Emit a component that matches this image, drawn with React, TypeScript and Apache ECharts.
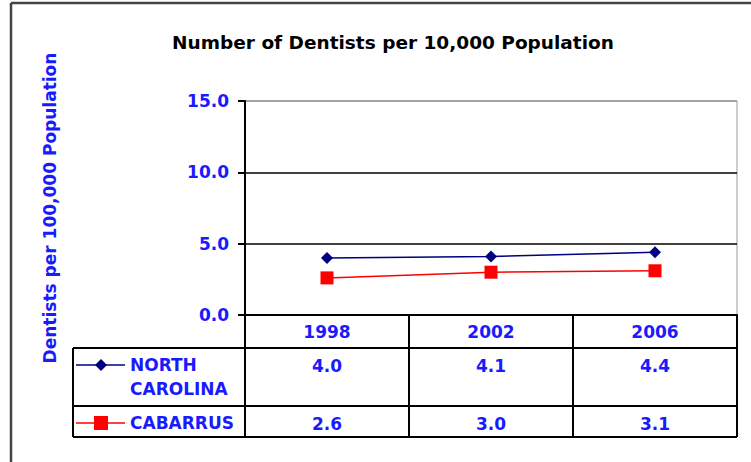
import React, { useEffect, useRef } from "react";
import * as echarts from "echarts";

const years = ["1998", "2002", "2006"];
const ncValues = [4.0, 4.1, 4.4];
const cabarrusValues = [2.6, 3.0, 3.1];
const seriesNames = ["NORTH CAROLINA", "CABARRUS"];
const yTicks = [0, 5, 10, 15];
const chartTitle = "Number of Dentists per 10,000 Population";
const yTitle = "Dentists per 100,000 Population";

const BLUE = "#1a1aff";
const NAVY = "#000080";
const RED = "#ff0000";
const FONT = "'DejaVu Sans', Verdana, sans-serif";

export default function App() {
  const ref = useRef<HTMLDivElement>(null);
  useEffect(() => {
    if (!ref.current) return;
    const chart = echarts.init(ref.current, undefined, { renderer: "svg" });
    const gl = 245, gt = 101, gw = 492, gh = 214;
    const tableLeft = 73;
    const rowHeader = 348, rowNC = 406, rowCab = 437;
    const lineStyle = { stroke: "#000", lineWidth: 2 };
    const blueLabel = { color: BLUE, fontFamily: FONT, fontWeight: "bold" as const, fontSize: 17 };

    const option: any = {
      animation: false,
      backgroundColor: "#fff",
      title: {
        text: chartTitle,
        left: 388,
        top: 28,
        textAlign: "center",
        textStyle: { color: "#000", fontFamily: FONT, fontWeight: "bold", fontSize: 18.5 },
      },
      grid: {
        left: gl, top: gt, width: gw, height: gh,
        show: true, borderColor: "#999", borderWidth: 1, backgroundColor: "transparent",
      },
      xAxis: [
        {
          type: "category",
          data: years,
          boundaryGap: true,
          axisLine: { show: true, lineStyle: { color: "#000", width: 2 } },
          axisTick: { show: true, alignWithLabel: false, length: rowCab - (gt + gh), lineStyle: { color: "#000", width: 2 } },
          axisLabel: { ...blueLabel, margin: 8 },
          splitLine: { show: false },
        },
        {
          type: "category",
          data: years,
          position: "bottom",
          axisLine: { show: false },
          axisTick: { show: false },
          axisLabel: { ...blueLabel, margin: 42, formatter: (_v: string, i: number) => ncValues[i].toFixed(1) },
        },
        {
          type: "category",
          data: years,
          position: "bottom",
          axisLine: { show: false },
          axisTick: { show: false },
          axisLabel: { ...blueLabel, margin: 100, formatter: (_v: string, i: number) => cabarrusValues[i].toFixed(1) },
        },
      ],
      yAxis: {
        type: "value",
        min: yTicks[0],
        max: yTicks[yTicks.length - 1],
        interval: yTicks[1] - yTicks[0],
        name: yTitle,
        nameLocation: "middle",
        nameRotate: 90,
        nameGap: 187,
        nameTextStyle: { color: BLUE, fontFamily: FONT, fontWeight: "bold", fontSize: 17 },
        axisLine: { show: true, lineStyle: { color: "#000", width: 2 } },
        axisTick: { show: true, length: 7, lineStyle: { color: "#000", width: 2 } },
        axisLabel: { ...blueLabel, margin: 16, formatter: (v: number) => v.toFixed(1) },
        splitLine: { show: true, lineStyle: { color: ["#000", "#000", "#000", "#999"], width: 1.5 } },
      },
      series: [
        {
          name: seriesNames[0],
          type: "line",
          data: ncValues,
          xAxisIndex: 0,
          symbol: "diamond",
          symbolSize: 12,
          itemStyle: { color: NAVY },
          lineStyle: { color: NAVY, width: 1.5 },
        },
        {
          name: seriesNames[1],
          type: "line",
          data: cabarrusValues,
          xAxisIndex: 0,
          symbol: "rect",
          symbolSize: 13,
          itemStyle: { color: RED },
          lineStyle: { color: RED, width: 1.5 },
        },
      ],
      graphic: [
        // outer frame
        { type: "line", shape: { x1: 11, y1: 3, x2: 11, y2: 462 }, style: { stroke: "#444", lineWidth: 2.5 } },
        { type: "line", shape: { x1: 11, y1: 3, x2: 751, y2: 3 }, style: { stroke: "#444", lineWidth: 2.5 } },
        // data table lines
        { type: "line", shape: { x1: tableLeft, y1: rowHeader, x2: gl + gw, y2: rowHeader }, style: lineStyle },
        { type: "line", shape: { x1: tableLeft, y1: rowNC, x2: gl + gw, y2: rowNC }, style: lineStyle },
        { type: "line", shape: { x1: tableLeft, y1: rowCab, x2: gl + gw, y2: rowCab }, style: lineStyle },
        { type: "line", shape: { x1: tableLeft, y1: rowHeader, x2: tableLeft, y2: rowCab }, style: lineStyle },
        // legend keys
        { type: "line", shape: { x1: 76, y1: 365, x2: 125, y2: 365 }, style: { stroke: NAVY, lineWidth: 1.5 } },
        { type: "polygon", shape: { points: [[101, 359], [107, 365], [101, 371], [95, 365]] }, style: { fill: NAVY } },
        {
          type: "text", x: 130, y: 353,
          style: { text: seriesNames[0].replace(" ", "\n"), fill: BLUE, font: `bold 17px ${FONT}`, lineHeight: 24, verticalAlign: "top", align: "left" },
        },
        { type: "line", shape: { x1: 76, y1: 423, x2: 125, y2: 423 }, style: { stroke: RED, lineWidth: 1.5 } },
        { type: "rect", shape: { x: 94, y: 416, width: 14, height: 14 }, style: { fill: RED } },
        {
          type: "text", x: 130, y: 423,
          style: { text: seriesNames[1], fill: BLUE, font: `bold 17px ${FONT}`, verticalAlign: "middle", align: "left" },
        },
      ],
    };
    chart.setOption(option);
    return () => chart.dispose();
  }, []);
  return (
    <div
      ref={ref}
      style={{ position: "fixed", left: 0, top: 0, width: 751, height: 462, background: "#fff" }}
    />
  );
}
